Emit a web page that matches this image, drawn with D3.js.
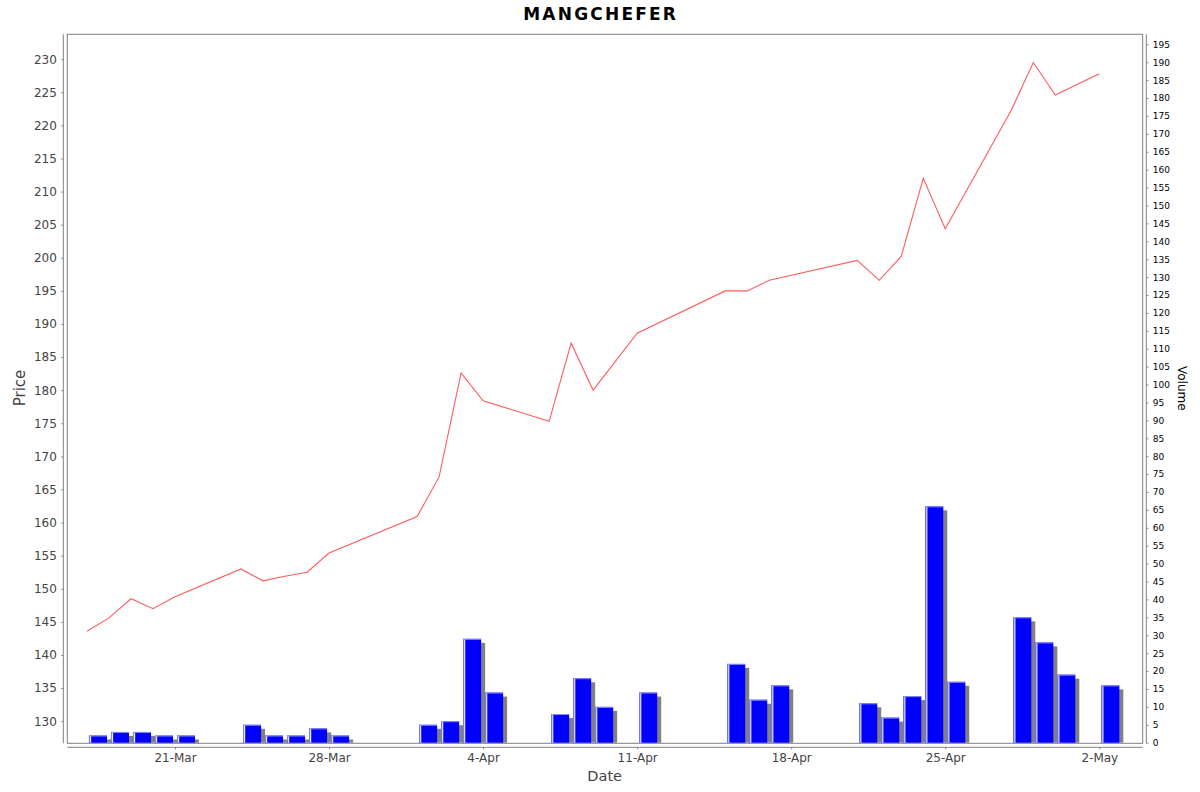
<!DOCTYPE html>
<html>
<head>
<meta charset="utf-8">
<script src="https://cdn.jsdelivr.net/npm/d3@7/dist/d3.min.js"></script>
<style>
  html, body { margin: 0; padding: 0; background: #ffffff; }
  svg { display: block; font-family: "DejaVu Sans", sans-serif; }
</style>
</head>
<body>
<svg id="chart" width="1200" height="792"></svg>
<script>
// ---- data ----
const chartTitle = "MANGCHEFER";
const tradeDates = [
  "2025-03-17","2025-03-18","2025-03-19","2025-03-20","2025-03-21",
  "2025-03-24","2025-03-25","2025-03-26","2025-03-27","2025-03-28",
  "2025-04-01","2025-04-02","2025-04-03","2025-04-04",
  "2025-04-07","2025-04-08","2025-04-09","2025-04-11",
  "2025-04-15","2025-04-16","2025-04-17",
  "2025-04-21","2025-04-22","2025-04-23","2025-04-24","2025-04-25",
  "2025-04-28","2025-04-29","2025-04-30","2025-05-02"
];
const closePrice = [
  143.6, 145.6, 148.5, 147.0, 148.8,
  153.0, 151.2, 151.9, 152.5, 155.4,
  160.9, 166.9, 182.6, 178.4,
  175.3, 187.1, 180.0, 188.6,
  195.0, 195.0, 196.6,
  199.6, 196.6, 200.2, 212.0, 204.4,
  222.3, 229.5, 224.6, 227.8
];
const volume = [
  2, 3, 3, 2, 2,
  5, 2, 2, 4, 2,
  5, 6, 29, 14,
  8, 18, 10, 14,
  22, 12, 16,
  11, 7, 13, 66, 17,
  35, 28, 19, 16
];
const priceTicks = d3.range(130, 231, 5);
const volumeTicks = d3.range(0, 196, 5);
const dateTicks = ["2025-03-21","2025-03-28","2025-04-04","2025-04-11","2025-04-18","2025-04-25","2025-05-02"];
const dateTickLabels = ["21-Mar","28-Mar","4-Apr","11-Apr","18-Apr","25-Apr","2-May"];

// ---- layout ----
const plot = { left: 67.3, right: 1142.7, top: 34.3, bottom: 743.3 };
const DAY = 864e5;
const parse = s => new Date(s + "T00:00:00Z");
const rows = tradeDates.map((d, i) => ({ date: parse(d), price: closePrice[i], vol: volume[i] }));

const x = d3.scaleUtc()
  .domain([new Date(parse("2025-03-21").getTime() - 4.894 * DAY),
           new Date(parse("2025-05-02").getTime() + 1.972 * DAY)])
  .range([plot.left, plot.right]);
const yP = d3.scaleLinear().domain([126.66, 233.76]).range([plot.bottom, plot.top]);
const yV = d3.scaleLinear().domain([-0.17, 197.8]).range([plot.bottom, plot.top]);

const svg = d3.select("#chart");
const axisColor = "#808080";

svg.append("defs").append("clipPath").attr("id", "plotclip")
  .append("rect")
  .attr("x", plot.left).attr("y", plot.top)
  .attr("width", plot.right - plot.left).attr("height", plot.bottom - plot.top);

// plot background + border
svg.append("rect")
  .attr("x", plot.left).attr("y", plot.top)
  .attr("width", plot.right - plot.left).attr("height", plot.bottom - plot.top)
  .attr("fill", "#ffffff").attr("stroke", axisColor).attr("stroke-width", 1);

const g = svg.append("g").attr("clip-path", "url(#plotclip)");

// volume bars (with shadow)
const margin = 0.09;
const barX0 = d => x(new Date(d.date.getTime() + margin * DAY));
const barX1 = d => x(new Date(d.date.getTime() + (1 - margin) * DAY));
const base = yV(0);

const bars = g.selectAll("g.bar").data(rows).join("g").attr("class", "bar");
bars.append("rect") // shadow
  .attr("x", d => barX0(d) + 4)
  .attr("y", d => yV(d.vol) + 4)
  .attr("width", d => barX1(d) - barX0(d))
  .attr("height", d => Math.max(0, base - yV(d.vol) - 4))
  .attr("fill", "#808080");
bars.append("rect") // main bar
  .attr("x", d => barX0(d))
  .attr("y", d => yV(d.vol))
  .attr("width", d => barX1(d) - barX0(d))
  .attr("height", d => base - yV(d.vol))
  .attr("fill", "#0000ff");
bars.append("rect") // left light edge
  .attr("x", d => barX0(d))
  .attr("y", d => yV(d.vol))
  .attr("width", 1)
  .attr("height", d => base - yV(d.vol))
  .attr("fill", "#7f7fff");
bars.append("rect") // highlight stripe
  .attr("x", d => barX0(d) + 1)
  .attr("y", d => yV(d.vol))
  .attr("width", 1.2)
  .attr("height", d => base - yV(d.vol))
  .attr("fill", "#e6e6ff");
bars.append("rect") // top light edge
  .attr("x", d => barX0(d))
  .attr("y", d => yV(d.vol))
  .attr("width", d => barX1(d) - barX0(d))
  .attr("height", 1)
  .attr("fill", "#8c8cff");

// price line
g.append("path")
  .datum(rows)
  .attr("fill", "none")
  .attr("stroke", "#ff5c5c")
  .attr("stroke-width", 1.1)
  .attr("d", d3.line().x(d => x(d.date)).y(d => yP(d.price)));

// ---- axes ----
const axL = svg.append("g").attr("transform", `translate(${plot.left - 4},0)`)
  .call(d3.axisLeft(yP).tickValues(priceTicks).tickSize(2).tickPadding(4.5));
const axR = svg.append("g").attr("transform", `translate(${plot.right + 3.6},0)`)
  .call(d3.axisRight(yV).tickValues(volumeTicks).tickSize(2).tickPadding(4.4));
const axB = svg.append("g").attr("transform", `translate(0,${plot.bottom + 4})`)
  .call(d3.axisBottom(x).tickValues(dateTicks.map(parse))
    .tickFormat((d, i) => dateTickLabels[i]).tickSize(2).tickPadding(4.5));

[axL, axR, axB].forEach(a => {
  a.select(".domain").remove();
  a.selectAll(".tick line").attr("stroke", axisColor);
});
axL.selectAll("text").attr("font-size", 12).attr("fill", "#444444").attr("font-family", "DejaVu Sans");
axR.selectAll("text").attr("font-size", 9).attr("fill", "#000000").attr("font-family", "DejaVu Sans");
axB.selectAll("text").attr("font-size", 12).attr("fill", "#444444").attr("font-family", "DejaVu Sans");

// axis lines
svg.append("line").attr("x1", plot.left - 4).attr("x2", plot.left - 4)
  .attr("y1", plot.top).attr("y2", plot.bottom).attr("stroke", axisColor);
svg.append("line").attr("x1", plot.right + 3.6).attr("x2", plot.right + 3.6)
  .attr("y1", plot.top).attr("y2", plot.bottom).attr("stroke", axisColor);
svg.append("line").attr("x1", plot.left).attr("x2", plot.right)
  .attr("y1", plot.bottom + 4).attr("y2", plot.bottom + 4).attr("stroke", axisColor);

// ---- titles ----
svg.append("text")
  .attr("x", 600.7).attr("y", 19.5)
  .attr("text-anchor", "middle")
  .attr("font-size", 17).attr("font-weight", "bold")
  .attr("letter-spacing", 2.2)
  .attr("fill", "#000000")
  .text(chartTitle);

svg.append("text")
  .attr("transform", "translate(25,388) rotate(-90)")
  .attr("text-anchor", "middle")
  .attr("font-size", 15).attr("fill", "#444444")
  .text("Price");

svg.append("text")
  .attr("x", 604.7).attr("y", 781)
  .attr("text-anchor", "middle")
  .attr("font-size", 14.5).attr("fill", "#444444")
  .text("Date");

svg.append("text")
  .attr("transform", "translate(1177.5,388.3) rotate(90)")
  .attr("text-anchor", "middle")
  .attr("font-size", 12).attr("fill", "#000000")
  .text("Volume");
</script>
</body>
</html>
